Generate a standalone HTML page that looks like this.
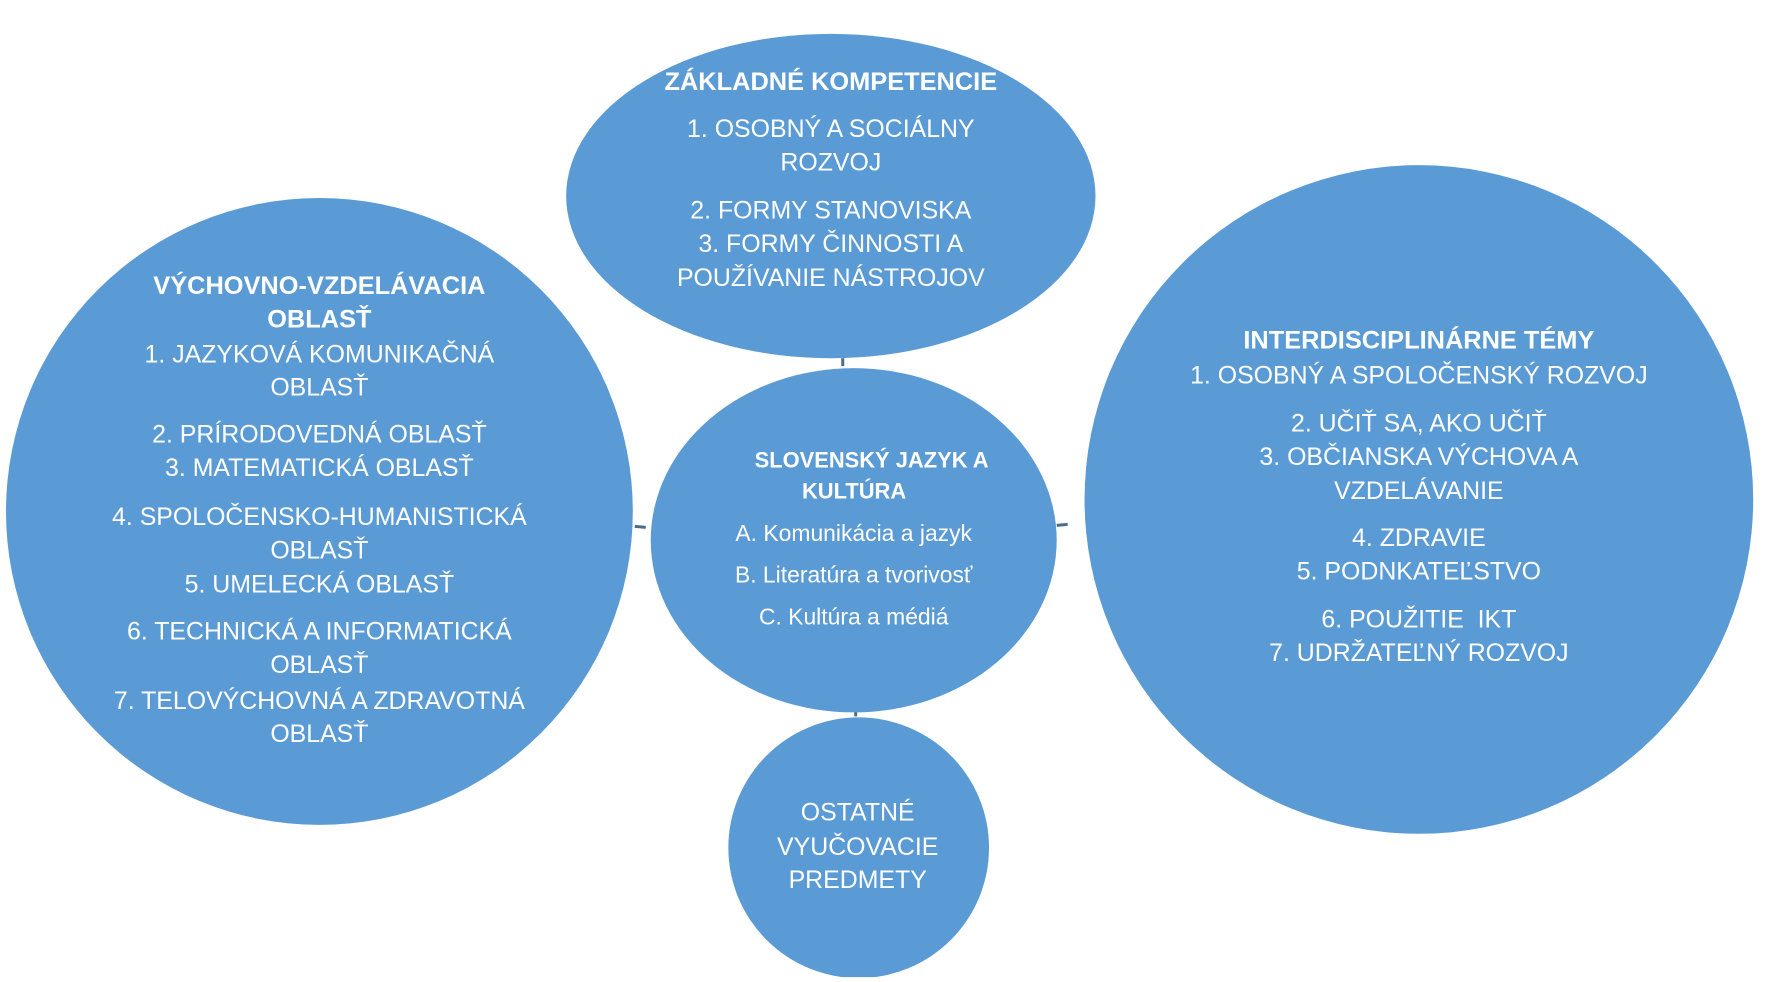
<!DOCTYPE html>
<html><head><meta charset="utf-8"><style>
body{margin:0;width:1767px;height:982px;background:#fff;position:relative;overflow:hidden;font-family:"Liberation Sans",sans-serif;}
#w{position:absolute;left:0;top:0;width:1767px;height:982px;transform:scale(0.995);transform-origin:0 0;}
.t{position:absolute;transform:translate(-50%,-50%);color:#fff;font-size:25px;white-space:nowrap;line-height:1;}
.b{font-weight:bold;font-size:25.5px;}
.s{font-size:23px;}
.sb{font-size:22px;font-weight:bold;}
</style></head><body><div id="w">
<svg width="1767" height="982" style="position:absolute;left:0;top:0">
<g stroke="#4a6d8c" stroke-width="3">
<line x1="847" y1="360" x2="847" y2="368"/>
<line x1="638" y1="529" x2="649" y2="530"/>
<line x1="1062" y1="528" x2="1073" y2="527"/>
<line x1="860" y1="714" x2="860" y2="720"/>
</g>
<g fill="#5b9bd5">
<circle cx="321" cy="514" r="315"/>
<ellipse cx="835" cy="197" rx="266" ry="163"/>
<ellipse cx="858" cy="543" rx="204" ry="173"/>
<circle cx="863" cy="852" r="131"/>
<circle cx="1426" cy="502" r="336"/>
</g>
</svg>
<div class="t b" style="left:835px;top:83px">ZÁKLADNÉ KOMPETENCIE</div>
<div class="t" style="left:835px;top:130px">1. OSOBNÝ A SOCIÁLNY</div>
<div class="t" style="left:835px;top:164px">ROZVOJ</div>
<div class="t" style="left:835px;top:212px">2. FORMY STANOVISKA</div>
<div class="t" style="left:835px;top:246px">3. FORMY ČINNOSTI A</div>
<div class="t" style="left:835px;top:280px">POUŽÍVANIE NÁSTROJOV</div>

<div class="t b" style="left:321px;top:288px">VÝCHOVNO-VZDELÁVACIA</div>
<div class="t b" style="left:321px;top:322px">OBLASŤ</div>
<div class="t" style="left:321px;top:357px">1. JAZYKOVÁ KOMUNIKAČNÁ</div>
<div class="t" style="left:321px;top:390px">OBLASŤ</div>
<div class="t" style="left:321px;top:437px">2. PRÍRODOVEDNÁ OBLASŤ</div>
<div class="t" style="left:321px;top:471px">3. MATEMATICKÁ OBLASŤ</div>
<div class="t" style="left:321px;top:520px">4. SPOLOČENSKO-HUMANISTICKÁ</div>
<div class="t" style="left:321px;top:554px">OBLASŤ</div>
<div class="t" style="left:321px;top:588px">5. UMELECKÁ OBLASŤ</div>
<div class="t" style="left:321px;top:635px">6. TECHNICKÁ A INFORMATICKÁ</div>
<div class="t" style="left:321px;top:669px">OBLASŤ</div>
<div class="t" style="left:321px;top:705px">7. TELOVÝCHOVNÁ A ZDRAVOTNÁ</div>
<div class="t" style="left:321px;top:738px">OBLASŤ</div>

<div class="t sb" style="left:876px;top:463px">SLOVENSKÝ JAZYK A</div>
<div class="t sb" style="left:806px;top:494px;transform:translate(0,-50%)">KULTÚRA</div>
<div class="t s" style="left:858px;top:536px">A. Komunikácia a jazyk</div>
<div class="t s" style="left:858px;top:578px">B. Literatúra a tvorivosť</div>
<div class="t s" style="left:858px;top:620px">C. Kultúra a médiá</div>

<div class="t" style="left:862px;top:817px">OSTATNÉ</div>
<div class="t" style="left:862px;top:852px">VYUČOVACIE</div>
<div class="t" style="left:862px;top:885px">PREDMETY</div>

<div class="t b" style="left:1426px;top:343px">INTERDISCIPLINÁRNE TÉMY</div>
<div class="t" style="left:1426px;top:378px">1. OSOBNÝ A SPOLOČENSKÝ ROZVOJ</div>
<div class="t" style="left:1426px;top:426px">2. UČIŤ SA, AKO UČIŤ</div>
<div class="t" style="left:1426px;top:460px">3. OBČIANSKA VÝCHOVA A</div>
<div class="t" style="left:1426px;top:494px">VZDELÁVANIE</div>
<div class="t" style="left:1426px;top:541px">4. ZDRAVIE</div>
<div class="t" style="left:1426px;top:575px">5. PODNKATEĽSTVO</div>
<div class="t" style="left:1426px;top:623px">6. POUŽITIE&nbsp; IKT</div>
<div class="t" style="left:1426px;top:657px">7. UDRŽATEĽNÝ ROZVOJ</div>
</div></body></html>
